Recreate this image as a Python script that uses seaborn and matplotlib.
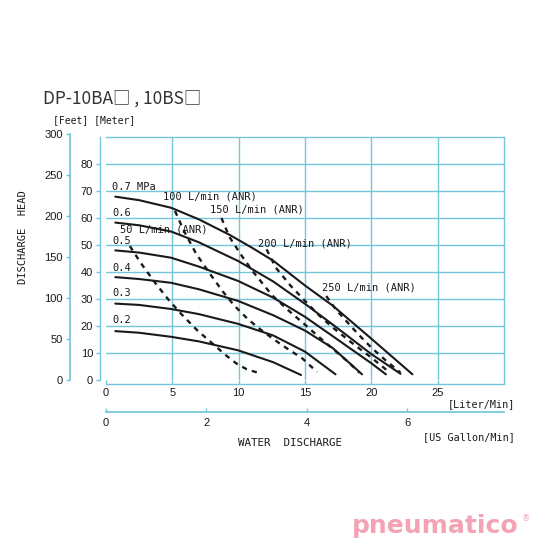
import numpy as np
import pandas as pd
import seaborn as sns
import matplotlib.pyplot as plt

W, H = 540, 540
GRID = "#74c6dc"
INK = "#1a1a1a"
MONO = ["DejaVu Sans Mono"]
SANS = ["Liberation Sans", "DejaVu Sans"]

# pump curves: water discharge (L/min) vs head (m), one per air pressure
pressures = ["0.7 MPa", "0.6", "0.5", "0.4", "0.3", "0.2"]
flow_07 = [0.7, 2.5, 4.9, 7.0, 9.3, 11.0, 12.6, 15.0, 17.1, 20.0, 23.1]
head_07 = [67.9, 66.6, 63.8, 59.5, 53.8, 49.0, 44.2, 35.0, 27.5, 15.3, 2.1]
flow_06 = [0.7, 2.5, 4.9, 7.0, 9.95, 12.6, 15.0, 17.1, 20.0, 22.2]
head_06 = [58.3, 57.3, 55.0, 51.0, 44.1, 36.5, 28.2, 20.5, 9.6, 2.3]
flow_05 = [0.7, 2.5, 4.9, 7.0, 9.95, 12.6, 15.0, 17.1, 20.0, 21.1]
head_05 = [48.0, 47.2, 45.3, 42.0, 36.7, 30.5, 23.4, 16.2, 6.2, 2.1]
flow_04 = [0.7, 2.5, 4.9, 7.0, 9.95, 12.6, 15.0, 17.1, 19.3]
head_04 = [38.1, 37.4, 36.0, 33.6, 29.3, 24.0, 18.3, 11.8, 2.1]
flow_03 = [0.7, 2.5, 4.9, 7.0, 9.95, 12.6, 15.0, 17.3]
head_03 = [28.3, 27.8, 26.3, 24.4, 20.8, 16.5, 10.5, 2.1]
flow_02 = [0.7, 2.5, 4.9, 7.0, 9.95, 12.6, 14.7]
head_02 = [18.1, 17.5, 16.0, 14.3, 11.0, 6.6, 1.85]

# air consumption lines (dashed)
air_labels = ["50 L/min (ANR)", "100 L/min (ANR)", "150 L/min (ANR)",
              "200 L/min (ANR)", "250 L/min (ANR)"]
flow_a50 = [1.8, 2.6, 3.7, 4.7, 5.7, 6.9, 8.1, 9.0, 9.8, 10.6, 11.45]
head_a50 = [49.6, 43.5, 36.0, 29.8, 24.3, 18.3, 13.2, 9.3, 6.2, 4.0, 2.7]
flow_a100 = [5.2, 5.9, 6.8, 7.9, 8.8, 9.7, 10.7, 11.8, 13.3, 14.8, 15.9]
head_a100 = [62.6, 55.0, 46.7, 38.9, 32.8, 27.4, 22.5, 18.1, 12.8, 8.0, 3.0]
flow_a150 = [8.7, 9.3, 10.3, 11.1, 12.5, 13.7, 15.0, 16.2, 17.3, 18.3, 19.1]
head_a150 = [60.0, 53.0, 45.5, 40.0, 31.5, 26.0, 20.5, 15.3, 10.7, 6.5, 2.7]
flow_a200 = [12.1, 12.8, 13.9, 15.0, 16.0, 17.1, 18.6, 20.0, 21.4]
head_a200 = [48.4, 41.6, 35.0, 29.3, 24.2, 19.4, 13.5, 8.3, 2.7]
flow_a250 = [16.6, 17.3, 18.1, 19.0, 20.0, 21.1, 22.2]
head_a250 = [31.1, 26.3, 21.9, 17.0, 12.0, 7.2, 2.7]

# label anchor points (data coords)
press_lab_x = [0.45] * 6
press_lab_y = [71.5, 61.8, 51.5, 41.5, 32.2, 22.2]
air_lab_x = [1.05, 4.3, 7.85, 11.45, 16.3]
air_lab_y = [55.6, 67.8, 63.0, 50.7, 34.4]

meter_ticks = list(range(0, 81, 10))
feet_ticks = list(range(0, 301, 50))
liter_ticks = list(range(0, 31, 5))
gallon_ticks = [0, 2, 4, 6]

pump = pd.concat([
    pd.DataFrame({"curve": p, "flow": f, "head": h})
    for p, f, h in zip(pressures,
                       [flow_07, flow_06, flow_05, flow_04, flow_03, flow_02],
                       [head_07, head_06, head_05, head_04, head_03, head_02])
])
air = pd.concat([
    pd.DataFrame({"curve": a, "flow": f, "head": h})
    for a, f, h in zip(air_labels,
                       [flow_a50, flow_a100, flow_a150, flow_a200, flow_a250],
                       [head_a50, head_a100, head_a150, head_a200, head_a250])
])

sns.set_theme(style="white")
plt.rcParams["font.family"] = SANS


def box(l, t, r, b):
    return [l / W, 1 - b / H, (r - l) / W, (b - t) / H]


def px(x, y):
    return x / W, 1 - y / H


fig = plt.figure(figsize=(5.4, 5.4), dpi=100)
fig.patch.set_facecolor("white")

ax = fig.add_axes(box(106, 137, 504, 380))
ax.set_xlim(0, 30)
ax.set_ylim(0, 90)
for v in range(5, 30, 5):
    ax.axvline(v, color=GRID, lw=1.0, zorder=0)
for v in range(10, 90, 10):
    ax.axhline(v, color=GRID, lw=1.0, zorder=0)

for name, g in pump.groupby("curve", sort=False):
    sns.lineplot(data=g, x="flow", y="head", ax=ax, color=INK, lw=1.5,
                 sort=False, estimator=None, legend=False)
for name, g in air.groupby("curve", sort=False):
    sns.lineplot(data=g, x="flow", y="head", ax=ax, color=INK, lw=1.7,
                 sort=False, estimator=None, legend=False,
                 linestyle=(0, (2.2, 2.2)))

for t, x, y in zip(pressures, press_lab_x, press_lab_y):
    ax.text(x, y, t, family=MONO, fontsize=7.5, color=INK, va="center")
for t, x, y in zip(air_labels, air_lab_x, air_lab_y):
    ax.text(x, y, t, family=MONO, fontsize=7.5, color=INK, va="center")

ax.set_xlabel("")
ax.set_ylabel("")
for s in ["top", "right", "left", "bottom"]:
    ax.spines[s].set_visible(True)
    ax.spines[s].set_color(GRID)
    ax.spines[s].set_linewidth(1.0)
ax.spines["left"].set_position(("outward", 4.3))
ax.spines["bottom"].set_position(("outward", 3.0))
ax.set_xticks(liter_ticks)
ax.set_xticklabels([str(v) for v in liter_ticks[:-1]] + [""])
ax.set_yticks(meter_ticks)
ax.set_yticklabels([str(v) for v in meter_ticks])
ax.tick_params(axis="x", bottom=True, direction="in", length=3, width=1,
               color=GRID, pad=3, labelsize=8, labelcolor=INK)
ax.tick_params(axis="y", left=True, direction="out", length=3, width=1,
               color=GRID, pad=2, labelsize=8, labelcolor=INK)

# feet scale
axf = fig.add_axes(box(70, 134, 71, 380))
axf.set_ylim(0, 300)
axf.set_xticks([])
axf.patch.set_visible(False)
for s in ["top", "right", "bottom"]:
    axf.spines[s].set_visible(False)
axf.spines["left"].set_visible(True)
axf.spines["left"].set_color(GRID)
axf.set_yticks(feet_ticks)
axf.tick_params(axis="y", left=True, direction="out", length=3, width=1,
                color=GRID, pad=2, labelsize=8, labelcolor=INK)

# US gallon scale
axg = fig.add_axes(box(106, 411, 504, 412))
axg.set_xlim(0, 30 / 3.785)
axg.set_yticks([])
axg.patch.set_visible(False)
for s in ["top", "right", "left"]:
    axg.spines[s].set_visible(False)
axg.spines["bottom"].set_visible(True)
axg.spines["bottom"].set_color(GRID)
axg.set_xticks(gallon_ticks)
axg.tick_params(axis="x", bottom=True, direction="in", length=3, width=1,
                color=GRID, pad=4, labelsize=8, labelcolor=INK)

fig.text(*px(43, 99), "DP-10BA□ , 10BS□", fontsize=12.5, color="#333333",
         va="center", family=["Noto Sans CJK JP", "DejaVu Sans"])
fig.text(*px(53, 120), "[Feet] [Meter]", fontsize=7, color=INK,
         va="center", family=MONO)
fig.text(*px(23, 237), "DISCHARGE  HEAD", fontsize=7.5, color=INK,
         rotation=90, ha="center", va="center", family=MONO)
fig.text(*px(290, 443), "WATER  DISCHARGE", fontsize=7.8, color=INK,
         ha="center", va="center", family=MONO)
fig.text(*px(515, 404), "[Liter/Min]", fontsize=7.3, color=INK,
         ha="right", va="center", family=MONO)
fig.text(*px(515, 437), "[US Gallon/Min]", fontsize=7.3, color=INK,
         ha="right", va="center", family=MONO)
fig.text(*px(352, 526), "pneumatico", fontsize=18, fontweight="bold",
         color="#f4a3b5", va="center", family=["DejaVu Sans"])
fig.text(*px(522, 519), "®", fontsize=6, color="#f4a3b5", va="center",
         family=["DejaVu Sans"])

fig.savefig("out.png", dpi=100, facecolor="white")
